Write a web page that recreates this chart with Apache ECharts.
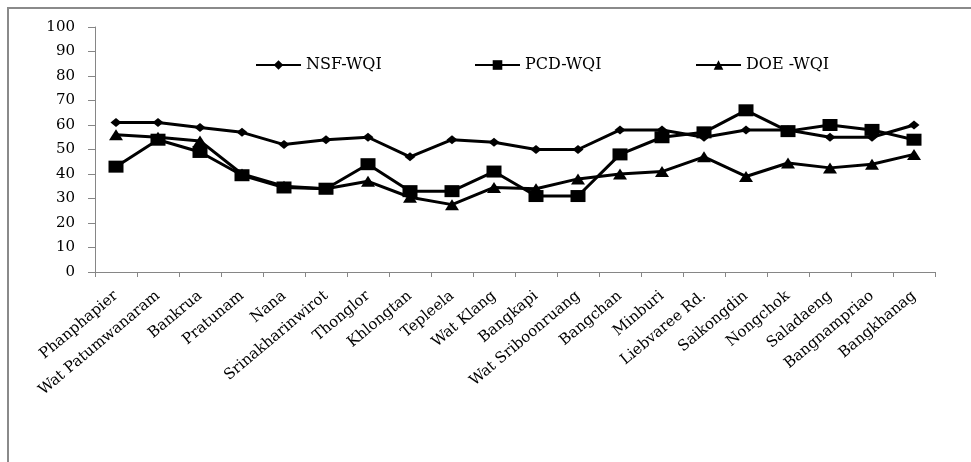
<!DOCTYPE html>
<html>
<head>
<meta charset="utf-8">
<script src="https://cdn.jsdelivr.net/npm/echarts@6/dist/echarts.min.js"></script>
<style>html,body{margin:0;padding:0;background:#fff}#c{width:971px;height:462px}</style>
</head>
<body>
<div id="c"></div>
<script>
var categories = ['Phanphapier','Wat Patumwanaram','Bankrua','Pratunam','Nana','Srinakharinwirot','Thonglor','Khlongtan','Tepleela','Wat Klang','Bangkapi','Wat Sriboonruang','Bangchan','Minburi','Liebvaree Rd.','Saikongdin','Nongchok','Saladaeng','Bangnampriao','Bangkhanag'];
var nsfWqi = [61,61,59,57,52,54,55,47,54,53,50,50,58,58,55,58,58,55,55,60];
var pcdWqi = [43,54,49,39.5,34.5,34,44,33,33,41,31,31,48,55,57,66,57.5,60,58,54];
var doeWqi = [56,55,53.5,40,35,34,37,30.5,27.5,34.5,34,38,40,41,47,39,44.5,42.5,44,48];
var yTicks = {min:0, max:100, interval:10};

var FONT = 'DejaVu Serif';
var chart = echarts.init(document.getElementById('c'));
function leg(name, left){
  return {data:[name], left:left, top:52, itemWidth:45, itemHeight:12, itemGap:5,
    textStyle:{fontFamily:FONT, fontSize:16, color:'#000'}};
}
chart.setOption({
  animation:false,
  backgroundColor:'#fff',
  graphic:[{type:'rect', shape:{x:8, y:8, width:1100, height:1000}, style:{fill:'none', stroke:'#8a8a8a', lineWidth:2}, silent:true}],
  legend:[leg('NSF-WQI',250), leg('PCD-WQI',469), leg('DOE -WQI',690)],
  grid:{left:95, right:36, top:27, bottom:190, outerBoundsMode:'none'},
  xAxis:{type:'category', data:categories, boundaryGap:true,
    axisLine:{lineStyle:{color:'#868686', width:1}},
    axisTick:{show:true, alignWithLabel:false, length:5, interval:0, lineStyle:{color:'#868686'}},
    axisLabel:{interval:0, rotate:40, margin:22, fontFamily:FONT, fontSize:15, color:'#000'}},
  yAxis:{type:'value', min:yTicks.min, max:yTicks.max, interval:yTicks.interval,
    splitLine:{show:false},
    axisLine:{show:true, lineStyle:{color:'#868686', width:1}},
    axisTick:{show:true, length:7, lineStyle:{color:'#868686'}},
    axisLabel:{margin:20, fontFamily:FONT, fontSize:15, color:'#000'}},
  series:[
    {name:'NSF-WQI', type:'line', data:nsfWqi, symbol:'diamond', symbolSize:[11,9],
      lineStyle:{color:'#000', width:3}, itemStyle:{color:'#000'}, z:3},
    {name:'PCD-WQI', type:'line', data:pcdWqi, symbol:'rect', symbolSize:[15,12],
      lineStyle:{color:'#000', width:3}, itemStyle:{color:'#000'}, z:2},
    {name:'DOE -WQI', type:'line', data:doeWqi, symbol:'triangle', symbolSize:[14,11],
      lineStyle:{color:'#000', width:3}, itemStyle:{color:'#000'}, z:1}
  ]
});
</script>
</body>
</html>
